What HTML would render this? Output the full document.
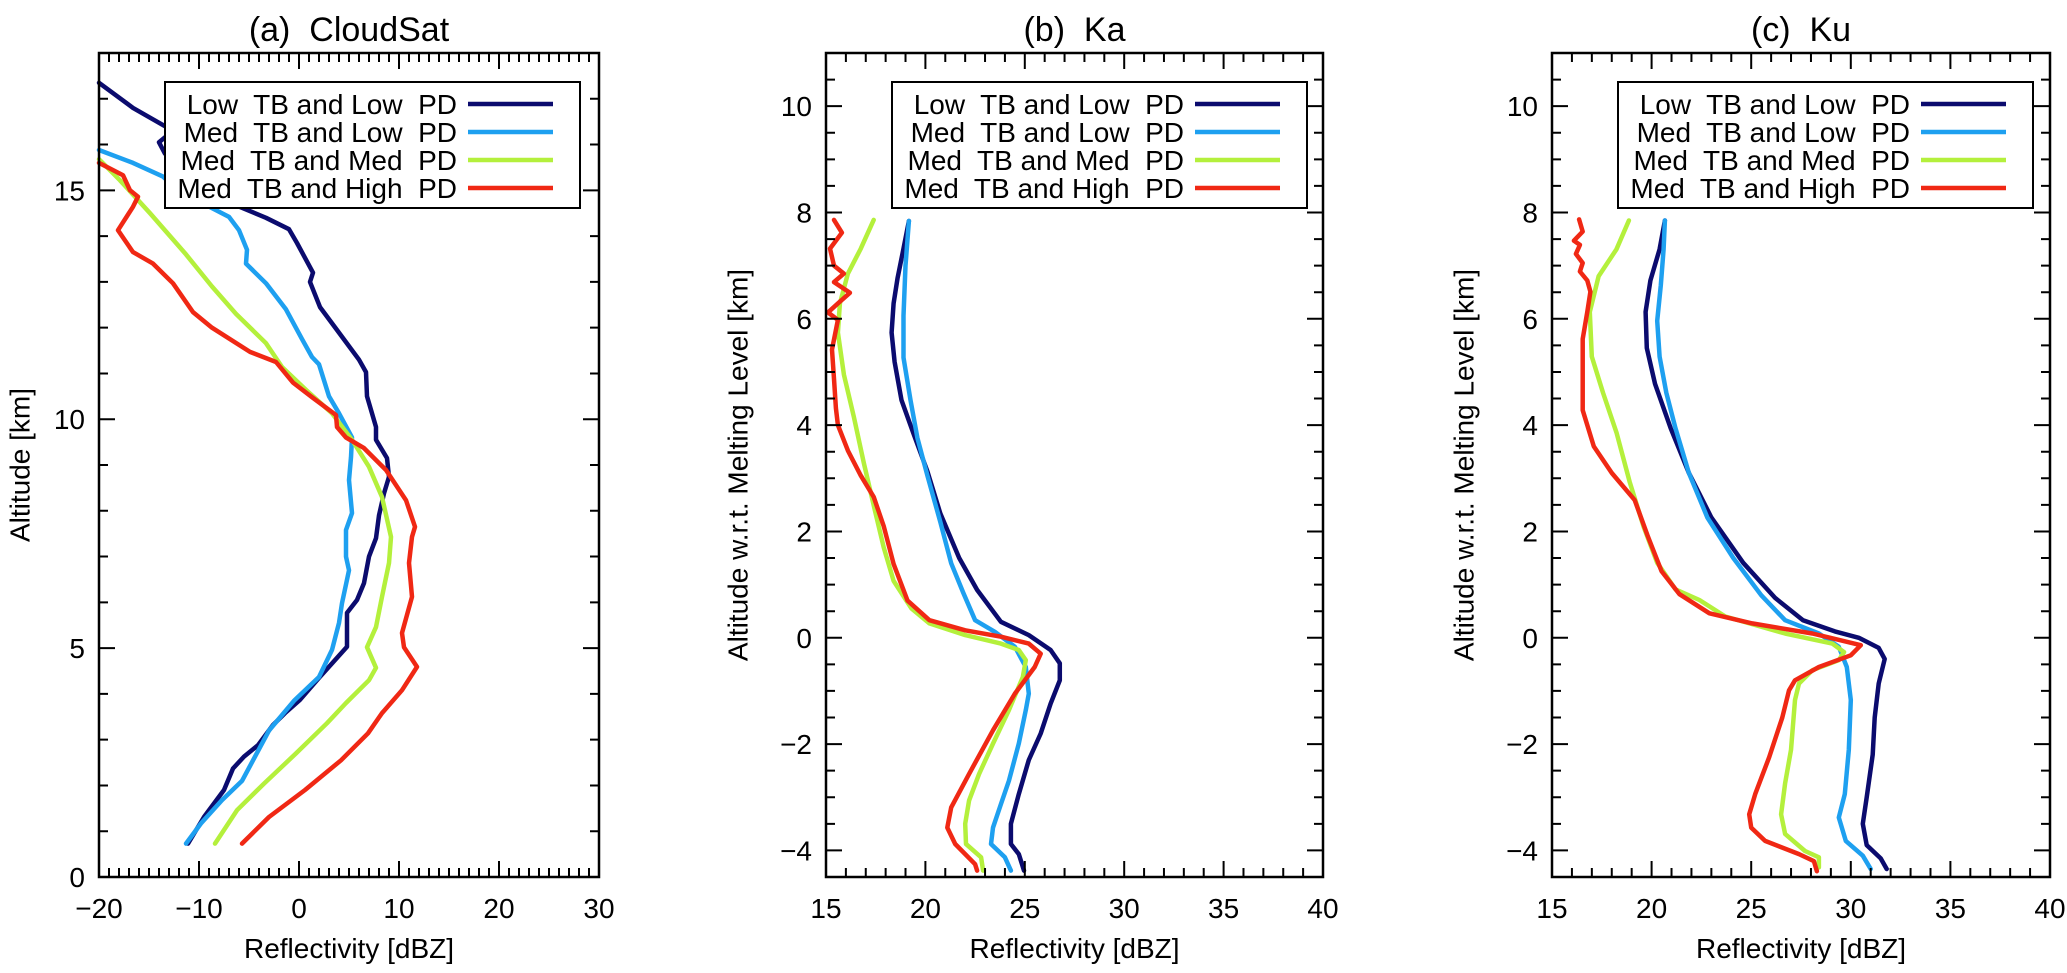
<!DOCTYPE html>
<html><head><meta charset="utf-8">
<style>
html,body{margin:0;padding:0;background:#fff;}
svg{display:block;font-family:"Liberation Sans",sans-serif;}
.pre{white-space:pre;}
</style></head>
<body>
<svg id="chart" width="2067" height="973" viewBox="0 0 2067 973" xmlns="http://www.w3.org/2000/svg"></svg>
<script>
// ---------- Data ----------
const seriesNames = ["Low  TB and Low  PD","Med  TB and Low  PD","Med  TB and Med  PD","Med  TB and High  PD"];
const seriesColors = ["#0b0b6e","#1ea0f0","#b4f03c","#f02814"];

// Panel (a) CloudSat: [reflectivity dBZ, altitude km]
const aLowLow = [[-20,17.35],[-16.6,16.8],[-12.6,16.3],[-14,16.05],[-13.4,15.8],[-8.9,15.4],[-9.6,15.2],[-6.6,14.7],[-3.3,14.4],[-1,14.15],[-0.2,13.85],[1.4,13.2],[1.1,13.0],[2.1,12.45],[3.8,11.95],[6,11.3],[6.7,11.03],[6.8,10.5],[7.7,9.83],[7.7,9.55],[8.8,9.15],[9.0,8.74],[8.5,8.38],[8.0,7.9],[7.7,7.4],[7.0,7.0],[6.5,6.42],[5.8,6.05],[4.8,5.77],[4.8,5.03],[2.0,4.35],[0.1,3.87],[-1.4,3.58],[-2.6,3.32],[-4.1,2.88],[-5.5,2.63],[-6.6,2.37],[-7.5,1.9],[-9.5,1.31],[-11.1,0.73]];
const aMedLow = [[-20,15.88],[-16.6,15.6],[-13.6,15.3],[-11.4,14.86],[-9.3,14.68],[-7,14.42],[-6,14.13],[-5.2,13.7],[-5.3,13.4],[-3.3,12.97],[-1.3,12.4],[0.3,11.75],[1.3,11.36],[2,11.2],[3,10.5],[4,10.13],[5.3,9.6],[5.2,9.17],[5,8.67],[5.3,7.95],[4.7,7.58],[4.7,7],[5,6.7],[4.3,5.98],[4,5.55],[3.3,4.96],[2,4.37],[-0.5,3.85],[-3,3.2],[-5.7,2.1],[-7.7,1.68],[-9.8,1.17],[-11.3,0.73]];
const aMedMed = [[-20,15.68],[-17.9,15.22],[-14.9,14.5],[-11.3,13.6],[-8.7,12.9],[-6.3,12.3],[-3.3,11.66],[-1.7,11.14],[0.7,10.64],[3.3,10.13],[5.3,9.55],[7,8.96],[8.3,8.3],[9.2,7.43],[9,6.86],[8.3,6.12],[7.7,5.46],[6.8,5.02],[7.7,4.57],[7,4.3],[4.7,3.8],[2.8,3.36],[-0.3,2.7],[-3.5,2.04],[-6.2,1.46],[-8.4,0.73]];
const aMedHigh = [[-20,15.6],[-17.6,15.33],[-16.9,15.0],[-16.1,14.86],[-16.6,14.64],[-18.1,14.13],[-16.6,13.65],[-14.6,13.4],[-12.6,12.97],[-10.6,12.34],[-8.7,12.0],[-4.9,11.47],[-2.3,11.25],[-0.6,10.8],[1.3,10.48],[3.7,10.09],[3.8,9.83],[4.7,9.6],[6.5,9.37],[8.7,8.89],[10.7,8.23],[11.6,7.65],[11.3,7.43],[11,6.86],[11.3,6.12],[10.3,5.33],[10.5,5.02],[11.8,4.59],[10.3,4.08],[8.3,3.58],[6.9,3.14],[4.2,2.55],[0.6,1.9],[-3,1.31],[-5.7,0.73]];

// Panel (b) Ka
const bLowLow = [[19.17,7.84],[18.9,7.32],[18.6,6.77],[18.4,6.29],[18.3,5.74],[18.45,5.19],[18.8,4.47],[19.4,3.84],[20.1,3.13],[20.75,2.34],[21.7,1.5],[22.6,0.9],[23.8,0.3],[25.2,0.05],[26.3,-0.23],[26.76,-0.48],[26.76,-0.8],[26.3,-1.24],[25.8,-1.8],[25.2,-2.3],[24.7,-2.94],[24.3,-3.5],[24.3,-3.88],[24.7,-4.07],[24.96,-4.38]];
const bMedLow = [[19.17,7.84],[19,7.0],[18.9,6.06],[18.9,5.27],[19.25,4.47],[19.6,3.76],[20.1,3.05],[20.75,2.18],[21.3,1.4],[21.9,0.85],[22.5,0.33],[23.5,0.11],[24.5,-0.17],[25.05,-0.55],[25.2,-1.05],[25.05,-1.36],[24.7,-1.99],[24.2,-2.69],[23.8,-3.13],[23.4,-3.57],[23.3,-3.88],[24.0,-4.13],[24.3,-4.38]];
const bMedMed = [[17.4,7.86],[16.75,7.32],[16.1,6.85],[15.7,6.29],[15.6,5.74],[15.9,4.95],[16.4,4.16],[16.9,3.29],[17.4,2.49],[17.9,1.7],[18.4,1.07],[19.3,0.55],[20.2,0.27],[22,0.05],[23.8,-0.11],[24.7,-0.23],[25.05,-0.42],[24.9,-0.74],[24.2,-1.36],[23.4,-1.99],[22.7,-2.56],[22.2,-3.06],[22,-3.5],[22.04,-3.88],[22.8,-4.13],[22.9,-4.38]];
const bMedHigh = [[15.4,7.86],[15.8,7.62],[15.2,7.32],[15.4,7.0],[15.9,6.85],[15.4,6.69],[16.2,6.49],[15.6,6.29],[15.1,6.12],[15.6,5.98],[15.3,5.42],[15.4,4.87],[15.5,4.32],[15.6,4.0],[16.1,3.52],[16.75,3.05],[17.4,2.65],[17.9,2.1],[18.4,1.39],[19.1,0.7],[20.2,0.33],[22,0.14],[23.8,0.02],[25.2,-0.11],[25.8,-0.3],[25.5,-0.55],[24.5,-1.05],[23.4,-1.74],[22.2,-2.56],[21.3,-3.19],[21.1,-3.57],[21.5,-3.88],[22.5,-4.26],[22.6,-4.38]];

// Panel (c) Ku
const cLowLow = [[20.67,7.85],[20.4,7.31],[19.94,6.72],[19.7,6.13],[19.76,5.45],[20.17,4.78],[20.96,3.94],[21.87,3.1],[23,2.26],[24.6,1.41],[26.2,0.75],[27.6,0.33],[29.2,0.12],[30.4,0.0],[31.4,-0.19],[31.7,-0.4],[31.4,-0.86],[31.2,-1.5],[31.1,-2.2],[30.8,-3.0],[30.6,-3.5],[30.8,-3.9],[31.5,-4.15],[31.8,-4.35]];
const cMedLow = [[20.67,7.85],[20.6,7.31],[20.46,6.63],[20.28,5.96],[20.4,5.29],[20.74,4.61],[21.2,3.94],[21.87,3.1],[22.8,2.26],[24.1,1.5],[25.5,0.8],[26.7,0.33],[28.4,0.08],[29.4,-0.17],[29.8,-0.55],[30.0,-1.17],[29.9,-2.11],[29.7,-2.94],[29.4,-3.38],[29.75,-3.82],[30.6,-4.1],[31.0,-4.35]];
const cMedMed = [[18.86,7.85],[18.24,7.31],[17.34,6.8],[16.9,6.13],[17.0,5.29],[17.56,4.61],[18.24,3.86],[18.9,2.93],[19.6,2.09],[20.28,1.41],[21.2,0.91],[22.4,0.71],[23.7,0.4],[26.7,0.08],[29.07,-0.11],[29.66,-0.27],[29.4,-0.42],[28.07,-0.61],[27.4,-0.86],[27.2,-1.17],[27.0,-2.11],[26.7,-2.74],[26.5,-3.32],[26.7,-3.69],[27.7,-4.01],[28.4,-4.13],[28.4,-4.32]];
const cMedHigh = [[16.36,7.87],[16.54,7.64],[16.1,7.47],[16.4,7.39],[16.2,7.22],[16.54,7.05],[16.4,6.89],[16.77,6.72],[16.93,6.51],[16.77,6.13],[16.54,5.62],[16.54,4.87],[16.54,4.28],[17.1,3.6],[18.0,3.1],[19.15,2.59],[19.8,1.92],[20.5,1.25],[21.4,0.82],[22.9,0.46],[25.05,0.27],[28.07,0.08],[30.5,-0.14],[30.0,-0.33],[28.4,-0.55],[27.2,-0.8],[26.9,-0.99],[26.56,-1.5],[25.9,-2.25],[25.2,-2.94],[24.9,-3.32],[25.0,-3.57],[25.7,-3.82],[27.4,-4.07],[28.15,-4.2],[28.3,-4.39]];

const aXTicks = [-20,-10,0,10,20,30];
const aYTicks = [0,5,10,15];
const bcXTicks = [15,20,25,30,35,40];
const bcYTicks = [-4,-2,0,2,4,6,8,10];

// ---------- Drawing ----------
const NS = "http://www.w3.org/2000/svg";
const svg = document.getElementById("chart");
function el(tag, attrs, parent){
  const e = document.createElementNS(NS, tag);
  for (const k in attrs) e.setAttribute(k, attrs[k]);
  (parent||svg).appendChild(e);
  return e;
}

const panels = [
  {key:"a", title:"(a)  CloudSat", left:99, right:599, xmin:-20, xmax:30, ymin:0, ymax:18, xticks:aXTicks, yticks:aYTicks, xminor:1, yminor:1, ytitle:"Altitude [km]", ytitleX:20, series:[aLowLow,aMedLow,aMedMed,aMedHigh]},
  {key:"b", title:"(b)  Ka", left:826, right:1323, xmin:15, xmax:40, ymin:-4.5, ymax:11, xticks:bcXTicks, yticks:bcYTicks, xminor:1, yminor:0.5, ytitle:"Altitude w.r.t. Melting Level [km]", ytitleX:738, series:[bLowLow,bMedLow,bMedMed,bMedHigh]},
  {key:"c", title:"(c)  Ku", left:1552, right:2050, xmin:15, xmax:40, ymin:-4.5, ymax:11, xticks:bcXTicks, yticks:bcYTicks, xminor:1, yminor:0.5, ytitle:"Altitude w.r.t. Melting Level [km]", ytitleX:1464, series:[cLowLow,cMedLow,cMedMed,cMedHigh]}
];
const TOP = 53, BOTTOM = 877;

panels.forEach(p => {
  const g = el("g", {});
  
  
  const xs = v => p.left + (v - p.xmin) / (p.xmax - p.xmin) * (p.right - p.left);
  const ys = v => BOTTOM - (v - p.ymin) / (p.ymax - p.ymin) * (BOTTOM - TOP);

  const t = el("text", {x:(p.left+p.right)/2, y:41, "font-size":34, "text-anchor":"middle", "class":"pre"}, g);
  t.textContent = p.title;
  
  

  p.series.forEach((s, i) => {
    const d = s.map((pt, j) => (j ? "L" : "M") + xs(pt[0]).toFixed(1) + " " + ys(pt[1]).toFixed(1)).join(" ");
    const path = el("path", {d:d, fill:"none", stroke:seriesColors[i], "stroke-width":4.5, "stroke-linejoin":"round", "stroke-linecap":"round"}, g);
    
    
  });

  const frame = el("rect", {x:p.left, y:TOP, width:p.right-p.left, height:BOTTOM-TOP, fill:"none", stroke:"#000", "stroke-width":2.5}, g);
  
  

  let tk = "";
  const nx = Math.round((p.xmax - p.xmin) / p.xminor);
  for (let k = 0; k <= nx; k++) {
    const v = p.xmin + k * p.xminor;
    const major = p.xticks.some(m => Math.abs(m - v) < 1e-6);
    const L = major ? 16 : 9, x = xs(v);
    tk += `M${x} ${BOTTOM}V${BOTTOM-L}M${x} ${TOP}V${TOP+L}`;
  }
  const ny = Math.round((p.ymax - p.ymin) / p.yminor);
  for (let k = 0; k <= ny; k++) {
    const v = p.ymin + k * p.yminor;
    const major = p.yticks.some(m => Math.abs(m - v) < 1e-6);
    const L = major ? 16 : 9, y = ys(v);
    tk += `M${p.left} ${y}H${p.left+L}M${p.right} ${y}H${p.right-L}`;
  }
  const ticks = el("path", {d:tk, stroke:"#000", "stroke-width":2, fill:"none"}, g);
  
  

  p.xticks.forEach(v => {
    const lbl = el("text", {x:xs(v), y:918, "font-size":28, "text-anchor":"middle"}, g);
    lbl.textContent = String(v).replace("-", "\u2212");
    
    
  });
  p.yticks.forEach(v => {
    const lbl = el("text", {x:p.left-14, y:ys(v)+10, "font-size":28, "text-anchor":"end"}, g);
    lbl.textContent = String(v).replace("-", "\u2212");
    
    
  });

  const xt = el("text", {x:(p.left+p.right)/2, y:958, "font-size":28, "text-anchor":"middle"}, g);
  xt.textContent = "Reflectivity [dBZ]";
  
  

  const yt = el("text", {x:p.ytitleX, y:465, "font-size":28, "text-anchor":"middle", "dominant-baseline":"central", transform:`rotate(-90 ${p.ytitleX} 465)`}, g);
  yt.textContent = p.ytitle;
  
  

  const lg = el("g", {}, g);
  
  
  const lx = p.left + 66;
  el("rect", {x:lx, y:82, width:415, height:126, fill:"#fff", stroke:"#000", "stroke-width":2}, lg);
  seriesNames.forEach((n, i) => {
    const ry = 104 + i * 28;
    const tx = el("text", {x:p.left+358, y:ry+10, "font-size":28, "text-anchor":"end", "class":"pre"}, lg);
    tx.textContent = n;
    
    
    const ln = el("line", {x1:p.left+369, x2:p.left+454, y1:ry, y2:ry, stroke:seriesColors[i], "stroke-width":4.5}, lg);
    
    
  });
});
</script>
</body></html>
